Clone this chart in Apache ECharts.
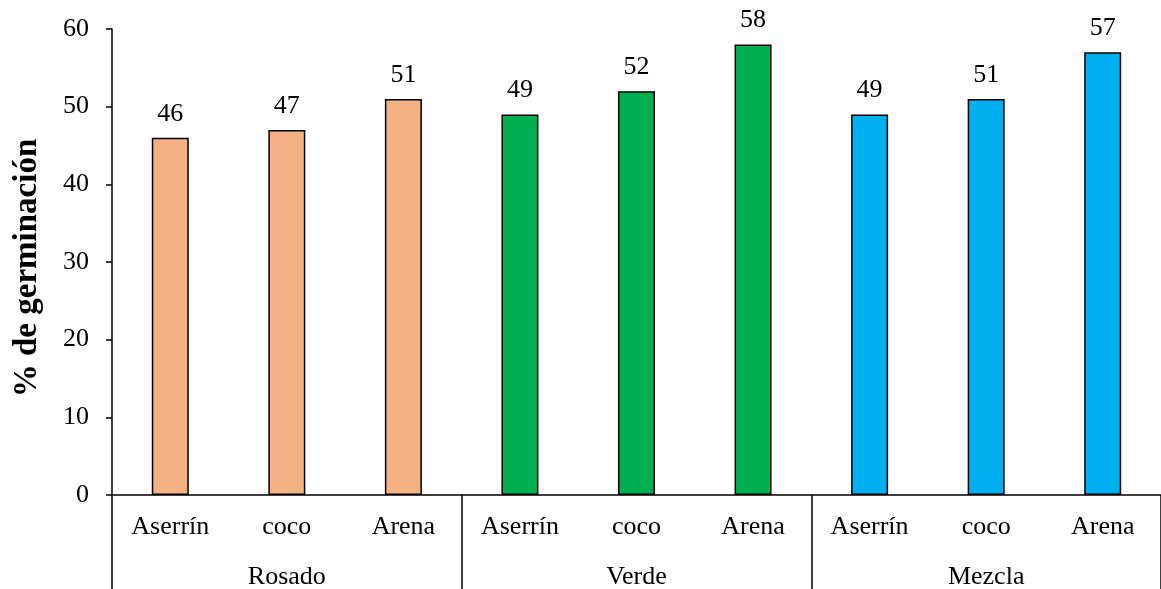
<!DOCTYPE html>
<html>
<head>
<meta charset="utf-8">
<script src="https://cdn.jsdelivr.net/npm/echarts@6/dist/echarts.min.js"></script>
<style>
  html, body { margin: 0; padding: 0; background: #fff; }
  #chart { width: 1161px; height: 589px; }
</style>
</head>
<body>
<div id="chart"></div>
<script>
// Sustrato por tratamiento (eje interior) y tipo de semilla (eje exterior)
const categories = ['Aserrín', 'coco', 'Arena', 'Aserrín', 'coco', 'Arena', 'Aserrín', 'coco', 'Arena'];
const groups = ['Rosado', 'Verde', 'Mezcla'];
const germination = [46, 47, 51, 49, 52, 58, 49, 51, 57];
const groupColors = ['#F4B183', '#00B050', '#00B0F0'];
const yTicks = { min: 0, max: 60, interval: 10 };

const FONT = '"Liberation Serif", "Times New Roman", serif';
const perGroup = categories.length / groups.length;

const barData = germination.map((v, i) => ({
  value: v,
  itemStyle: { color: groupColors[Math.floor(i / perGroup)] }
}));

const chart = echarts.init(document.getElementById('chart'), null, { renderer: 'canvas' });

chart.setOption({
  animation: false,
  backgroundColor: '#ffffff',
  grid: { left: 112, right: 0, top: 29, bottom: 94, containLabel: false, outerBoundsMode: 'none' },
  xAxis: [
    {
      type: 'category',
      data: categories,
      position: 'bottom',
      axisLine: { show: true, lineStyle: { color: '#000', width: 1.5 } },
      axisTick: { show: false },
      axisLabel: { color: '#000', fontFamily: FONT, fontSize: 26, margin: 19, interval: 0 }
    },
    {
      type: 'category',
      data: groups,
      position: 'bottom',
      axisLine: { show: false },
      axisTick: { show: true, length: 100, lineStyle: { color: '#000', width: 1.5 } },
      axisLabel: { color: '#000', fontFamily: FONT, fontSize: 26, margin: 69, interval: 0 }
    }
  ],
  yAxis: {
    type: 'value',
    min: yTicks.min,
    max: yTicks.max,
    interval: yTicks.interval,
    name: '% de germinación',
    nameLocation: 'middle',
    nameGap: 68,
    nameTextStyle: { color: '#000', fontFamily: FONT, fontSize: 33, fontWeight: 'bold', padding: [0, 12, 0, 0] },
    axisLine: { show: true, lineStyle: { color: '#000', width: 1.5 } },
    axisTick: { show: true, length: 6, lineStyle: { color: '#000', width: 1.5 } },
    axisLabel: { color: '#000', fontFamily: FONT, fontSize: 26, margin: 23 },
    splitLine: { show: false }
  },
  series: [
    {
      type: 'bar',
      xAxisIndex: 0,
      data: barData,
      barWidth: 37,
      itemStyle: { borderColor: '#000', borderWidth: 1.5 },
      label: {
        show: true,
        position: 'top',
        distance: 11,
        color: '#000',
        fontFamily: FONT,
        fontSize: 26
      }
    }
  ]
});
</script>
</body>
</html>
